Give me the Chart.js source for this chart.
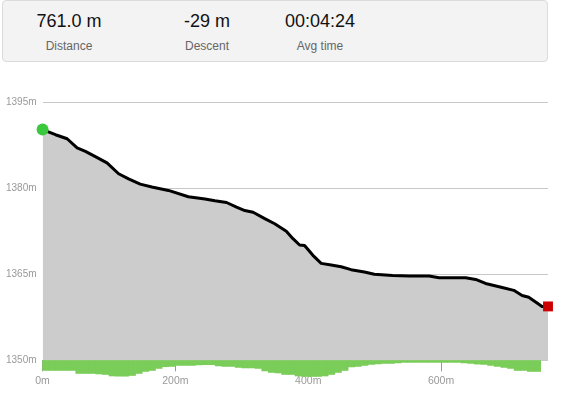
<!DOCTYPE html>
<html>
<head>
<meta charset="utf-8">
<script src="https://cdn.jsdelivr.net/npm/chart.js@4/dist/chart.umd.min.js"></script>
<style>
  html, body { margin: 0; padding: 0; background: #fff; }
  body { width: 564px; height: 395px; position: relative; overflow: hidden;
         font-family: Arial, "Liberation Sans", sans-serif; }
  .summary { position: absolute; left: 2px; top: 0; width: 544px; height: 60px;
             background: #f3f3f3; border: 1px solid #dcdcdc; border-radius: 4px; }
  .stat { position: absolute; top: 0; width: 130px; text-align: center; }
  .stat .value { position: absolute; top: 9px; width: 100%; font-size: 18px; line-height: 22px; color: #111; }
  .stat .label { position: absolute; top: 38px; width: 100%; font-size: 12px; line-height: 14px; color: #666; }
  .chart-box { position: absolute; left: 0; top: 90px; width: 564px; height: 305px; }
</style>
</head>
<body>
<div class="summary">
  <div class="stat" style="left:1px"><div class="value">761.0 m</div><div class="label">Distance</div></div>
  <div class="stat" style="left:139px"><div class="value">-29 m</div><div class="label">Descent</div></div>
  <div class="stat" style="left:252px"><div class="value">00:04:24</div><div class="label">Avg time</div></div>
</div>
<div class="chart-box"><canvas id="profileChart"></canvas></div>
<script>
'use strict';

// elevation profile, distance (m) / elevation (m)
const distances = [0, 19.5, 37, 52, 64.5, 79.5, 97, 114.5, 129.5, 147, 164.5, 189.5, 219.5,
  244.5, 259.5, 277, 292, 304.5, 317, 334.5, 349.5, 367, 377, 387, 394.5, 407, 419.5,
  434.5, 449.5, 464.5, 484.5, 499.5, 527, 552, 582, 597, 637, 652, 667, 692, 709.5,
  722, 732, 744.5, 752, 761];
const elevations = [1390.2, 1389.3, 1388.6, 1387.0, 1386.4, 1385.5, 1384.4, 1382.5, 1381.6,
  1380.7, 1380.2, 1379.6, 1378.5, 1378.1, 1377.8, 1377.5, 1376.7, 1376.1, 1375.8, 1374.7,
  1373.8, 1372.5, 1371.2, 1370.1, 1370.0, 1368.3, 1366.9, 1366.6, 1366.3, 1365.8, 1365.4,
  1365.0, 1364.8, 1364.7, 1364.7, 1364.4, 1364.4, 1364.1, 1363.4, 1362.7, 1362.2, 1361.3,
  1361.0, 1360.0, 1359.4, 1359.4];

// slope bars, one per 10 m segment (centre distance / downhill steepness)
const slopeDistances = [5, 15, 25, 35, 45, 55, 65, 75, 85, 95, 105, 115, 125, 135, 145, 155,
  165, 175, 185, 195, 205, 215, 225, 235, 245, 255, 265, 275, 285, 295, 305, 315, 325, 335,
  345, 355, 365, 375, 385, 395, 405, 415, 425, 435, 445, 455, 465, 475, 485, 495, 505, 515,
  525, 535, 545, 555, 565, 575, 585, 595, 605, 615, 625, 635, 645, 655, 665, 675, 685, 695,
  705, 715, 725, 735, 745];
const slopeValues = [-10, -10, -10, -10, -10, -13, -13, -13, -13.5, -14, -15.5, -15.7, -15.7,
  -15, -13, -11, -10, -8, -6.3, -6, -5, -5, -5, -4.5, -4.3, -4.3, -5.5, -6, -6, -7, -7.5,
  -7.5, -8, -10.5, -12, -12.5, -14, -14, -15.5, -16, -16, -16, -15.5, -14, -12, -10, -6.5,
  -6, -5, -4, -3.5, -3, -3, -2.5, -2, -2, -2, -2, -2, -2, -2, -2, -2, -2.5, -3, -3.7, -4,
  -5, -6, -7, -8, -10, -10, -11, -11];

const xTicks = [0, 200, 400, 600];
const yTicks = [1350, 1365, 1380, 1395];

const FONT = 'Arial, "Liberation Sans", sans-serif';
const lastIndex = distances.length - 1;

new Chart(document.getElementById('profileChart'), {
  data: {
    datasets: [{
      type: 'line',
      data: distances.map(function (d, i) { return { x: d, y: elevations[i] }; }),
      borderColor: '#000',
      borderWidth: 3,
      borderJoinStyle: 'round',
      borderCapStyle: 'round',
      backgroundColor: '#cccccc',
      fill: 'start',
      tension: 0,
      clip: false,
      pointStyle: function (ctx) { return ctx.dataIndex === lastIndex ? 'rect' : 'circle'; },
      pointRadius: function (ctx) {
        if (ctx.dataIndex === 0) return 6;
        if (ctx.dataIndex === lastIndex) return 7;
        return 0;
      },
      pointBackgroundColor: function (ctx) { return ctx.dataIndex === 0 ? '#3cc83c' : '#cc0000'; },
      pointBorderWidth: 0,
      order: 1
    }, {
      type: 'bar',
      yAxisID: 'y2',
      data: slopeDistances.map(function (d, i) { return { x: d, y: slopeValues[i] }; }),
      backgroundColor: '#7acd58',
      borderWidth: 0,
      barPercentage: 1,
      categoryPercentage: 1,
      clip: false,
      order: 2
    }]
  },
  options: {
    responsive: true,
    maintainAspectRatio: false,
    animation: false,
    layout: { padding: { left: 0, right: 16, top: 11, bottom: 5 } },
    plugins: { legend: { display: false }, tooltip: { enabled: false } },
    scales: {
      x: {
        type: 'linear',
        min: 0,
        max: 761,
        offset: false,
        z: 1,
        border: { display: false },
        grid: { offset: false, drawOnChartArea: false, drawTicks: true, tickLength: 11, color: '#999' },
        afterBuildTicks: function (scale) {
          scale.ticks = xTicks.map(function (v) { return { value: v }; });
        },
        ticks: {
          padding: 3,
          color: '#999',
          font: { family: FONT, size: 10.5 },
          maxRotation: 0,
          callback: function (v) { return v + 'm'; }
        }
      },
      y: {
        min: 1350,
        max: 1395,
        border: { display: false },
        grid: { drawTicks: false, color: '#c8c8c8' },
        afterBuildTicks: function (scale) {
          scale.ticks = yTicks.map(function (v) { return { value: v }; });
        },
        ticks: {
          padding: 6,
          color: '#999',
          font: { family: FONT, size: 10 },
          callback: function (v) { return v + 'm'; }
        }
      },
      y2: {
        display: false,
        min: 0,
        max: 257
      }
    }
  }
});
</script>
</body>
</html>
